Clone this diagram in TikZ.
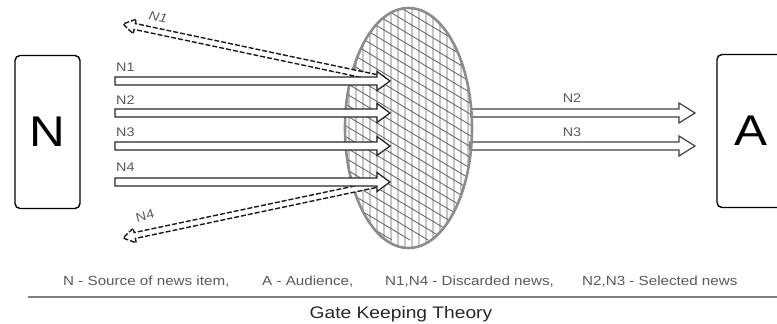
\documentclass[tikz,border=0pt]{standalone}
\usepackage{fontspec}
\setmainfont[FakeStretch=1.15]{Liberation Sans}
\usetikzlibrary{calc,shapes.geometric}
% block arrow between two named points: [opts]{start}{end}{shaft half}{head half}{head length}
\newcommand\blockarr[6][]{%
  \coordinate (hb) at ($(#3)!#6!(#2)$);
  \draw[#1] ($(#2)!#4!-90:(#3)$) -- ($(hb)!#4!-90:(#3)$) -- ($(hb)!#5!-90:(#3)$) -- (#3)
     -- ($(hb)!#5!90:(#3)$) -- ($(hb)!#4!90:(#3)$) -- ($(#2)!#4!90:(#3)$) -- cycle;
}
\tikzset{
  box/.style={draw, line width=1.4pt, rounded corners=5pt, minimum width=65pt,
              minimum height=153pt, inner sep=0pt, font=\fontsize{43}{43}\selectfont},
  mainarr/.style={draw=black!85, fill=white, line width=1.3pt, line join=miter},
  outarr/.style={draw=black!75, fill=white, line width=1.2pt},
  discarr/.style={draw=black!90, fill=white, line width=1.4pt, dash pattern=on 5pt off 2pt},
  lbl/.style={text=black!65, font=\fontsize{12.5}{12.5}\selectfont, inner sep=0pt},
  legend/.style={text=black!65, font=\fontsize{13.2}{13.2}\selectfont, inner sep=0pt, anchor=west},
}
\begin{document}
\begin{tikzpicture}[x=1pt, y=-1pt]
\useasboundingbox (0,0) rectangle (777,324);
% boxes
\node[box] (n) at (47.5,132) {N};
\node[box, minimum width=67pt] (a) at (750.5,131) {A};
% gate (hatched ellipse)
\begin{scope}
  \clip (408.5,128) ellipse [x radius=63.5pt, y radius=120pt];
  \fill[white] (340,0) rectangle (480,260);
  \foreach \x in {342,349,...,479} \draw[black!22, line width=1.2pt] (\x,0) -- (\x,260);
  \foreach \x in {-80,-62,...,480} \draw[black!62, line width=0.8pt] (\x,0) -- ++(400,240);
\end{scope}
% points
\foreach \i/\y in {1/81,2/113,3/146,4/182}{
  \coordinate (s\i) at (115,\y);
  \coordinate (t\i) at (390,\y);
}
\coordinate (o2s) at (471,113); \coordinate (o2t) at (695,113);
\coordinate (o3s) at (470,146); \coordinate (o3t) at (695,146);
\coordinate (d1s) at (383,79);  \coordinate (d1t) at (123,24);
\coordinate (d4s) at (383,183); \coordinate (d4t) at (123,238);
% selected outgoing arrows
\blockarr[outarr]{o2s}{o2t}{4pt}{10pt}{16pt}
\blockarr[outarr]{o3s}{o3t}{4pt}{10pt}{16pt}
% ellipse border
\node[ellipse, draw=black!45, line width=2.6pt, minimum width=127pt, minimum height=240pt,
      inner sep=0pt] (gate) at (408.5,128) {};
% discarded arrows
\blockarr[discarr]{d1s}{d1t}{3pt}{7.5pt}{12pt}
\blockarr[discarr]{d4s}{d4t}{3pt}{7.5pt}{12pt}
% incoming arrows
\foreach \i in {1,2,3,4}{\blockarr[mainarr]{s\i}{t\i}{4pt}{9.5pt}{13pt}}
% labels
\node[lbl, anchor=west] (l1) at (116,67.5) {N1};
\node[lbl, anchor=west] (l2) at (116,100) {N2};
\node[lbl, anchor=west] (l3) at (116,132.5) {N3};
\node[lbl, anchor=west] (l4) at (116,167.5) {N4};
\node[lbl] (r2) at (572,98) {N2};
\node[lbl] (r3) at (572,132) {N3};
\node[lbl, rotate=-12, font=\fontsize{12.5}{12.5}\selectfont\itshape] (ld1) at (158,17) {N1};
\node[lbl, rotate=15] (ld4) at (145,216) {N4};
% legend
\node[legend] (g1) at (63,282) {N - Source of news item,};
\node[legend] (g2) at (262,282) {A - Audience,};
\node[legend] (g3) at (385,282) {N1,N4 - Discarded news,};
\node[legend] (g4) at (582,282) {N2,N3 - Selected news};
\coordinate (rl) at (28,297); \coordinate (rr) at (777,297);
\draw[black!50, line width=1.4pt] (rl) -- (rr);
\node[text=black!85, font=\fontsize{16.7}{16.7}\selectfont, inner sep=0pt] (title) at (401,314) {Gate Keeping Theory};
\end{tikzpicture}
\end{document}
